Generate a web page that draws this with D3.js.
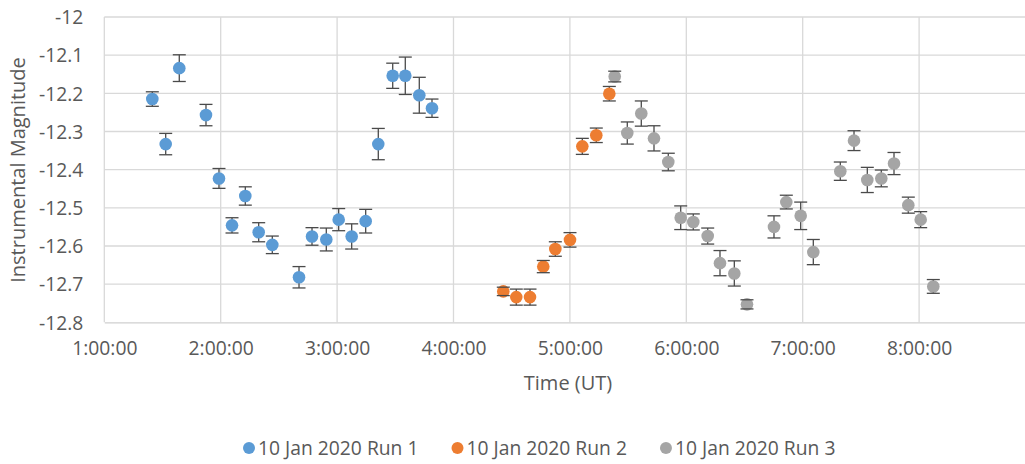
<!DOCTYPE html>
<html>
<head>
<meta charset="utf-8">
<script src="https://cdn.jsdelivr.net/npm/d3@7/dist/d3.min.js"></script>
<style>
  html, body { margin: 0; padding: 0; background: #ffffff; }
  svg { display: block; font-family: "Open Sans", "DejaVu Sans", sans-serif; }
</style>
</head>
<body>
<svg id="chart" width="1025" height="464"></svg>
<script>
// Observation times (UT) and instrumental magnitudes with their uncertainties
const run1Times = ["1:24:45","1:31:39","1:38:39","1:52:25","1:59:07","2:05:50","2:12:41","2:19:35","2:26:36","2:40:22",
                   "2:47:04","2:54:26","3:00:49","3:07:31","3:14:44","3:21:14","3:28:40","3:35:09","3:42:22","3:48:55"];
const run1Mags  = [-12.215,-12.333,-12.134,-12.257,-12.423,-12.546,-12.469,-12.564,-12.597,-12.682,
                   -12.575,-12.583,-12.531,-12.575,-12.535,-12.333,-12.154,-12.154,-12.205,-12.239];
const run1Errs  = [0.019,0.028,0.035,0.028,0.026,0.020,0.024,0.025,0.023,0.028,
                   0.023,0.030,0.029,0.033,0.031,0.041,0.033,0.049,0.047,0.024];

const run2Times = ["4:25:40","4:32:22","4:39:26","4:46:17","4:52:29","5:00:03","5:06:24","5:13:36","5:20:19"];
const run2Mags  = [-12.719,-12.734,-12.734,-12.654,-12.608,-12.584,-12.339,-12.310,-12.201];
const run2Errs  = [0.011,0.021,0.021,0.016,0.019,0.019,0.021,0.019,0.019];

const run3Times = ["5:23:06","5:29:35","5:36:48","5:43:21","5:50:43","5:57:07","6:03:36","6:11:02","6:17:22","6:24:45",
                   "6:31:17","6:45:12","6:51:33","6:58:58","7:05:28","7:19:23","7:26:27","7:33:18","7:40:31","7:47:04",
                   "7:54:26","8:00:49","8:07:19"];
const run3Mags  = [-12.156,-12.304,-12.253,-12.318,-12.380,-12.526,-12.537,-12.574,-12.645,-12.672,
                   -12.753,-12.550,-12.485,-12.521,-12.616,-12.404,-12.324,-12.427,-12.423,-12.384,
                   -12.493,-12.531,-12.706];
const run3Errs  = [0.014,0.029,0.033,0.033,0.023,0.031,0.021,0.021,0.033,0.033,
                   0.012,0.029,0.018,0.036,0.033,0.024,0.026,0.033,0.022,0.029,
                   0.021,0.021,0.018];

const seriesNames  = ["10 Jan 2020 Run 1", "10 Jan 2020 Run 2", "10 Jan 2020 Run 3"];
const seriesColors = ["#5b9bd5", "#ed7d31", "#a5a5a5"];

const xTickLabels = ["1:00:00","2:00:00","3:00:00","4:00:00","5:00:00","6:00:00","7:00:00","8:00:00"];
const yTickValues = [-12, -12.1, -12.2, -12.3, -12.4, -12.5, -12.6, -12.7, -12.8];

const toSec = s => { const p = s.split(":").map(Number); return p[0]*3600 + p[1]*60 + p[2]; };
const build = (t, m, e) => t.map((d, i) => ({ t: toSec(d), m: m[i], e: e[i] }));
const series = [build(run1Times, run1Mags, run1Errs),
                build(run2Times, run2Mags, run2Errs),
                build(run3Times, run3Mags, run3Errs)];

const svg = d3.select("#chart");
const textColor = "#595959";
const gridColor = "#d9d9d9";
const tickFont = 19.3, titleFont = 20;

const plotLeft = 104.3, plotRight = 1035.5, plotTop = 17, plotBottom = 322.3;
const x = d3.scaleLinear().domain([3600, 9 * 3600]).range([plotLeft, plotRight]);
const y = d3.scaleLinear().domain([-12.8, -12]).range([plotBottom, plotTop]);

// Horizontal gridlines
svg.append("g").selectAll("line").data(yTickValues.slice(0, -1)).join("line")
  .attr("x1", plotLeft).attr("x2", plotRight)
  .attr("y1", d => y(d)).attr("y2", d => y(d))
  .attr("stroke", gridColor).attr("stroke-width", 1.3);

// Vertical gridlines
const xTickSecs = xTickLabels.map(toSec);
svg.append("g").selectAll("line").data(xTickSecs).join("line")
  .attr("x1", d => x(d)).attr("x2", d => x(d))
  .attr("y1", plotTop).attr("y2", plotBottom)
  .attr("stroke", gridColor).attr("stroke-width", 1.3);

// Bottom axis
const xAxis = d3.axisBottom(x).tickValues(xTickSecs)
  .tickFormat((d, i) => xTickLabels[i]).tickSize(0).tickPadding(0);
const gx = svg.append("g").attr("transform", `translate(0,${plotBottom})`).call(xAxis);
gx.select(".domain").attr("stroke", "#cfcfcf").attr("stroke-width", 1.3);
gx.selectAll("text").attr("fill", textColor).attr("font-size", tickFont)
  .attr("dy", null).attr("y", 33).attr("font-family", "Open Sans");

// Left axis
const yAxis = d3.axisLeft(y).tickValues(yTickValues)
  .tickFormat(d => String(+d.toFixed(1))).tickSize(0).tickPadding(0);
const gy = svg.append("g").attr("transform", `translate(${plotLeft},0)`).call(yAxis);
gy.select(".domain").remove();
gy.selectAll("text").attr("fill", textColor).attr("font-size", tickFont)
  .attr("x", -21).attr("dy", "0.35em").attr("font-family", "Open Sans");

// Axis titles
svg.append("text").attr("x", 568).attr("y", 390).attr("text-anchor", "middle")
  .attr("fill", textColor).attr("font-size", titleFont).text("Time (UT)");
svg.append("text").attr("transform", "translate(25,170) rotate(-90)")
  .attr("text-anchor", "middle").attr("fill", textColor).attr("font-size", titleFont)
  .text("Instrumental Magnitude");

// Data: error-bar stems, markers, caps
const errColor = "#4a4a4a";
const capHalf = 6.5;
series.forEach((data, si) => {
  const g = svg.append("g");
  g.selectAll("line.stem").data(data).join("line").attr("class", "stem")
    .attr("x1", d => x(d.t)).attr("x2", d => x(d.t))
    .attr("y1", d => y(d.m - d.e)).attr("y2", d => y(d.m + d.e))
    .attr("stroke", errColor).attr("stroke-width", 1.3);
  g.selectAll("circle").data(data).join("circle")
    .attr("cx", d => x(d.t)).attr("cy", d => y(d.m)).attr("r", 6.3)
    .attr("fill", seriesColors[si]);
  ["lo", "hi"].forEach(k => {
    g.selectAll("line.cap" + k).data(data).join("line").attr("class", "cap" + k)
      .attr("x1", d => x(d.t) - capHalf).attr("x2", d => x(d.t) + capHalf)
      .attr("y1", d => y(k === "lo" ? d.m - d.e : d.m + d.e))
      .attr("y2", d => y(k === "lo" ? d.m - d.e : d.m + d.e))
      .attr("stroke", errColor).attr("stroke-width", 1.3);
  });
});

// Legend
const legend = svg.append("g");
let lx = 243;
seriesNames.forEach((name, i) => {
  const item = legend.append("g");
  item.append("circle").attr("cx", lx + 6).attr("cy", 448).attr("r", 6).attr("fill", seriesColors[i]);
  const t = item.append("text").attr("x", lx + 15).attr("y", 455)
    .attr("fill", textColor).attr("font-size", tickFont).text(name);
  lx += 15 + t.node().getComputedTextLength() + 33;
});
</script>
</body>
</html>
